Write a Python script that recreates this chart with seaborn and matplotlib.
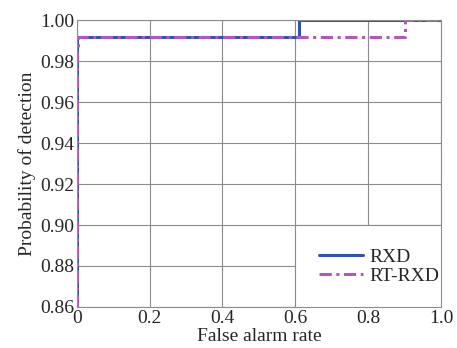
import pandas as pd
import seaborn as sns
import matplotlib.pyplot as plt
from matplotlib.patches import Rectangle

# ROC data (false alarm rate, probability of detection)
rxd_far = [0.0, 0.0, 0.61, 0.61, 1.0]
rxd_pd = [0.86, 0.992, 0.992, 1.0, 1.0]
rt_far = [0.0, 0.0, 0.002, 0.002, 0.90, 0.90, 1.0]
rt_pd = [0.86, 0.985, 0.985, 0.992, 0.992, 1.0, 1.0]

df = pd.concat([
    pd.DataFrame({'far': rxd_far, 'pd': rxd_pd, 'method': 'RXD'}),
    pd.DataFrame({'far': rt_far, 'pd': rt_pd, 'method': 'RT-RXD'}),
])

sns.set_style('white')
plt.rcParams['font.family'] = ['Liberation Serif', 'DejaVu Serif']

fig, ax = plt.subplots(figsize=(4.57, 3.48), dpi=100)

colors = {'RXD': '#2d55b0', 'RT-RXD': '#b158b8'}
d = df[df['method'] == 'RXD']
sns.lineplot(data=d, x='far', y='pd', ax=ax, sort=False, estimator=None,
             color=colors['RXD'], linewidth=2.2, label='RXD')
d = df[df['method'] == 'RT-RXD']
sns.lineplot(data=d, x='far', y='pd', ax=ax, sort=False, estimator=None,
             color=colors['RT-RXD'], linewidth=2.2, label='RT-RXD',
             linestyle=(0, (4, 1.5, 1, 1.5)))

ax.set_xlim(0, 1.0)
ax.set_ylim(0.86, 1.0)
ax.set_xticks([0, 0.2, 0.4, 0.6, 0.8, 1.0])
ax.set_xticklabels(['0', '0.2', '0.4', '0.6', '0.8', '1.0'])
ax.set_yticks([0.86, 0.88, 0.90, 0.92, 0.94, 0.96, 0.98, 1.00])
ax.set_yticklabels([f'{v:.2f}' for v in ax.get_yticks()])
ax.grid(True, color='#8c8c8c', linewidth=0.8)
for s in ax.spines.values():
    s.set_color('#8c8c8c')
    s.set_linewidth(0.8)
ax.tick_params(labelsize=14, length=0, pad=2)
ax.set_xlabel('False alarm rate', fontsize=14, labelpad=1)
ax.set_ylabel('Probability of detection', fontsize=14, labelpad=3)

# legend box (white, grey border) with frameless legend on top
box = Rectangle((0.599, 0.0), 0.401, 0.2857, transform=ax.transAxes,
                facecolor='white', edgecolor='#8c8c8c', linewidth=0.8, zorder=4)
ax.add_patch(box)
leg = ax.legend(loc='center right', bbox_to_anchor=(0.995, 0.14), fontsize=14,
                frameon=False, borderaxespad=0, handlelength=2.3,
                handletextpad=0.3, borderpad=0, labelspacing=0.05)
leg.set_zorder(5)

fig.subplots_adjust(left=0.168, right=0.965, top=0.942, bottom=0.118)
fig.savefig('out.png')
